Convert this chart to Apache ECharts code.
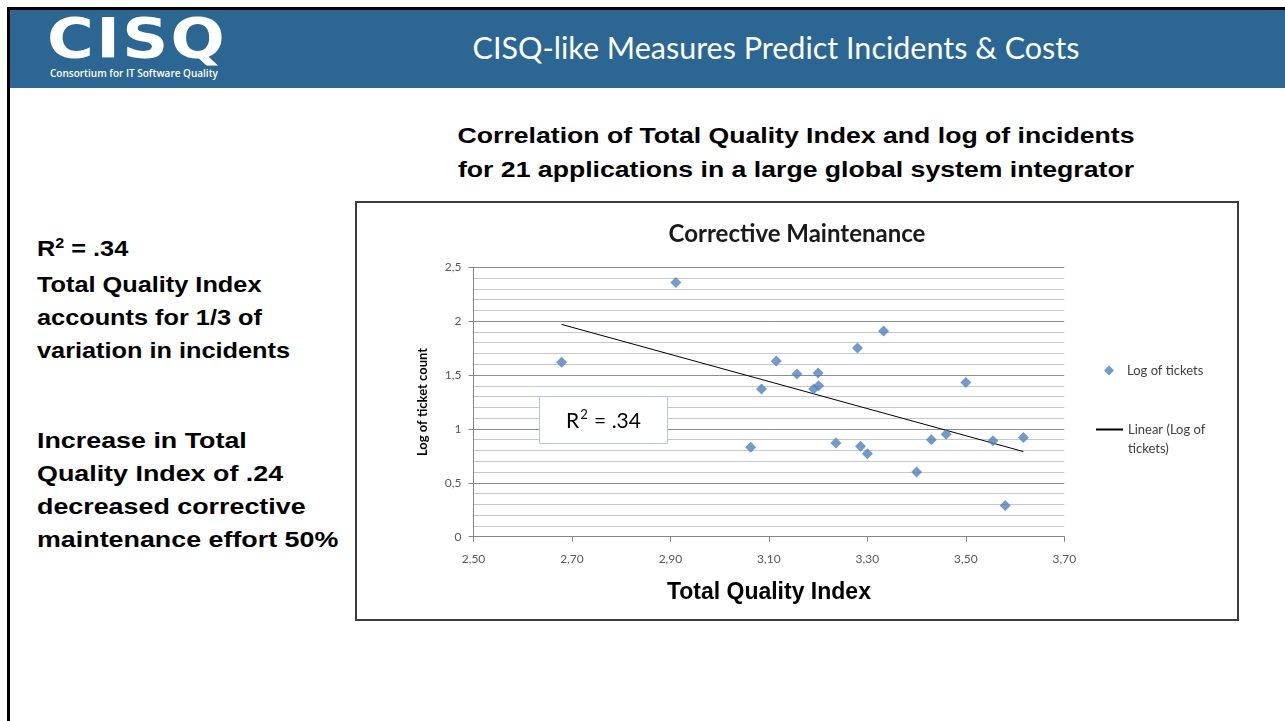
<!DOCTYPE html>
<html>
<head>
<meta charset="utf-8">
<title>CISQ-like Measures Predict Incidents &amp; Costs</title>
<script src="https://cdn.jsdelivr.net/npm/echarts@6.0.0/dist/echarts.min.js"></script>
<style>
    html, body { margin: 0; padding: 0; background: #fff; }
    body { width: 1285px; height: 721px; position: relative; overflow: hidden; font-family: "Liberation Sans", Arial, sans-serif; }
    .frame { position: absolute; left: 7px; top: 7px; right: 0; bottom: 0; border-top: 3px solid #000; border-left: 3px solid #000; }
    .header { position: absolute; left: 10px; top: 10px; right: 0; height: 78px; background: #2b6792; }
    .logo { position: absolute; left: 37px; top: 1px; color: #fff; font-family: "DejaVu Sans", sans-serif; font-weight: bold; font-size: 55px; line-height: 55px; letter-spacing: 2px; transform: scaleX(1.16); transform-origin: left top; }
    .logo-sub { position: absolute; left: 40px; top: 56px; color: #fff; font-family: "Open Sans", sans-serif; font-weight: 600; font-size: 10px; line-height: 14px; white-space: nowrap; }
    .head-title { position: absolute; left: 776px; top: 30px; transform: translateX(-50%); color: #fff; font-family: Lato, "Open Sans", sans-serif; font-size: 30.5px; line-height: 34px; white-space: nowrap; }
    .side { position: absolute; left: 37px; color: #000; font-weight: bold; font-size: 22px; line-height: 33px; white-space: nowrap; transform-origin: left top; }
    .side .sup { font-size: 14px; position: relative; top: -8px; }
    .caption { position: absolute; left: 796px; top: 119px; transform: translateX(-50%) scaleX(1.21); text-align: center; font-weight: bold; font-size: 22px; line-height: 34px; white-space: nowrap; }
    .chart-box { position: absolute; left: 355px; top: 201px; width: 884px; height: 420px; box-sizing: border-box; border: 2px solid #3c3c3c; background: #fff; }
    #chart { position: absolute; left: 0; top: 0; width: 880px; height: 416px; }
</style>
</head>
<body>
<div class="frame"></div>
<div class="header">
    <div class="logo">CISQ</div>
    <div class="logo-sub">Consortium for IT Software Quality</div>
</div>
<div class="head-title">CISQ-like Measures Predict Incidents &amp; Costs</div>

<div class="side" style="top:232px; transform: scaleX(1.15)">R<span class="sup">2</span> = .34<br>Total Quality Index<br>accounts for 1/3 of<br>variation in incidents</div>
<div class="side" style="top:424px; transform: scaleX(1.22)">Increase in Total<br>Quality Index of .24<br>decreased corrective<br>maintenance effort 50%</div>

<div class="caption">Correlation of Total Quality Index and log of incidents<br>for 21 applications in a large global system integrator</div>

<div class="chart-box"><div id="chart"></div></div>

<script>
    // 21个应用：质量指数 / 工单数对数
    var qualityIndex = [2.679, 2.911, 3.063, 3.085, 3.115, 3.157, 3.191, 3.200, 3.201, 3.236, 3.280,
        3.286, 3.300, 3.333, 3.400, 3.430, 3.460, 3.500, 3.555, 3.580, 3.617];
    var logTickets = [1.62, 2.36, 0.83, 1.37, 1.63, 1.51, 1.37, 1.52, 1.40, 0.87, 1.75,
        0.84, 0.77, 1.91, 0.60, 0.90, 0.95, 1.43, 0.89, 0.29, 0.92];
    // 趋势线两端
    var trendX = [2.679, 3.617];
    var trendY = [1.97, 0.79];
    var xTicks = [2.5, 3.7, 0.2];   // min, max, interval
    var yTicks = [0, 2.5, 0.5];

    var scatterName = 'Log of tickets';
    var trendName = 'Linear (Log of tickets)';

    function pairs(xs, ys) {
        var out = [];
        for (var i = 0; i < xs.length; i++) {
            out.push([xs[i], ys[i]]);
        }
        return out;
    }

    var labelFont = { color: '#595959', fontFamily: 'Lato', fontSize: 12 };

    var chart = echarts.init(document.getElementById('chart'));
    chart.setOption({
        animation: false,
        title: {
            text: 'Corrective Maintenance',
            left: 'center',
            top: 14,
            textStyle: { fontFamily: 'Lato', fontWeight: 'bold', fontSize: 24, color: '#1a1a1a' }
        },
        grid: { left: 116.5, right: 172.7, top: 64.3, bottom: 82.3 },
        legend: [
            {
                data: [scatterName],
                left: 747, top: 161, padding: 0,
                itemWidth: 10, itemHeight: 10,
                textStyle: { fontFamily: 'Lato', fontSize: 13, color: '#404040', lineHeight: 10, padding: [0, 0, 0, 8] }
            },
            {
                data: [trendName],
                left: 738, top: 198, padding: 0,
                itemWidth: 27, itemHeight: 10,
                itemStyle: { opacity: 0 },
                formatter: function () { return '\u00a0\nLinear (Log of\ntickets)'; },
                textStyle: { fontFamily: 'Lato', fontSize: 13, color: '#404040', lineHeight: 19 }
            }
        ],
        xAxis: {
            type: 'value',
            min: xTicks[0], max: xTicks[1], interval: xTicks[2],
            name: 'Total Quality Index',
            nameLocation: 'middle',
            nameGap: 44,
            nameTextStyle: { fontFamily: 'Liberation Sans', fontWeight: 'bold', fontSize: 23, color: '#000' },
            axisLine: { show: true, lineStyle: { color: '#868686' } },
            axisTick: { show: true, length: 5, lineStyle: { color: '#868686' } },
            axisLabel: Object.assign({ margin: 16, formatter: function (v) { return v.toFixed(2).replace('.', ','); } }, labelFont),
            splitLine: { show: false }
        },
        yAxis: {
            type: 'value',
            min: yTicks[0], max: yTicks[1], interval: yTicks[2],
            name: 'Log of ticket count',
            nameLocation: 'middle',
            nameGap: 44,
            nameTextStyle: { fontFamily: 'Lato', fontWeight: 'bold', fontSize: 13, color: '#000' },
            axisLine: { show: true, lineStyle: { color: '#868686' } },
            axisTick: { show: true, length: 5, lineStyle: { color: '#868686' } },
            axisLabel: Object.assign({ margin: 12, formatter: function (v) { return String(v).replace('.', ','); } }, labelFont),
            splitLine: { show: true, lineStyle: { color: '#8c8c8c' } },
            minorTick: { show: false, splitNumber: 5 },
            minorSplitLine: { show: true, lineStyle: { color: '#c8c8c8' } }
        },
        series: [
            {
                name: trendName,
                type: 'line',
                data: pairs(trendX, trendY),
                symbol: 'none',
                lineStyle: { color: '#000', width: 1 },
                itemStyle: { color: '#000' },
                z: 2
            },
            {
                name: scatterName,
                type: 'scatter',
                data: pairs(qualityIndex, logTickets),
                symbol: 'diamond',
                symbolSize: [11, 11],
                itemStyle: { color: '#4f81bd' },
                z: 3
            }
        ],
        graphic: [
            {
                type: 'rect',
                left: 182, top: 193, z: 100,
                shape: { x: 0, y: 0, width: 128, height: 47 },
                style: { fill: '#fff', stroke: '#b8c7da', lineWidth: 1 }
            },
            {
                type: 'text',
                left: 209, top: 205, z: 101,
                style: {
                    text: '{r|R}{s|2}{r| = .34}',
                    rich: {
                        r: { fontFamily: 'Lato', fontSize: 21, lineHeight: 24, verticalAlign: 'bottom', fill: '#000' },
                        s: { fontFamily: 'Lato', fontSize: 13, lineHeight: 24, verticalAlign: 'top', padding: [0, 1, 9, 1], fill: '#000' }
                    }
                }
            }
        ]
    });
</script>
</body>
</html>
